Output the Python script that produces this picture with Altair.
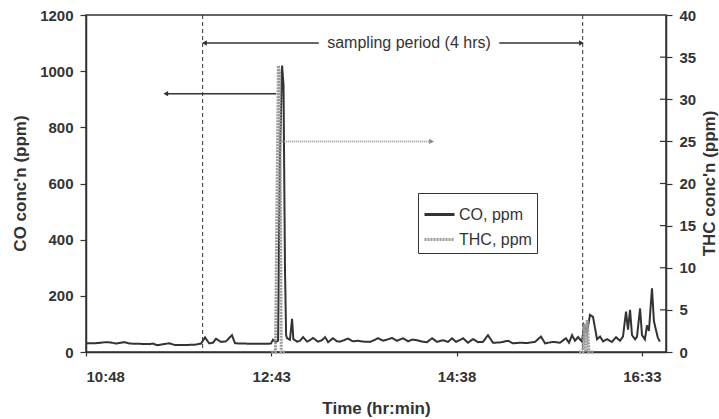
import altair as alt
import pandas as pd

# ---------------- data (minutes after 10:48) ----------------
co_minutes = [0, 5.6, 12.4, 15.5, 18.6, 23.6, 27.3, 33.5, 39.7, 41.6, 44.1, 47.2, 51.5, 55.2, 61.5, 67.7,
              71.4, 73.9, 76.4, 78.8, 80.7, 83.8, 86.9, 90.6, 92.5, 98.7, 104.9, 111.1, 114.8, 116.1, 117.9,
              119.2, 120.4, 121.7, 122.6, 123.5, 124.2, 124.8, 126.6, 127.9, 128.7, 131, 132.8, 134.7, 137.2,
              139, 140.9, 144, 146.5, 148.4, 150.3, 153.3, 155.8, 157.7, 160.1, 162.6, 165.7, 168.8, 171.9,
              176.3, 178.8, 181.3, 184.4, 186.8, 189.9, 193, 196.8, 199.9, 202.4, 205.5, 208.6, 211.7, 214.8,
              217.9, 221.6, 224.7, 227.2, 229.7, 232.2, 234, 237.1, 240.2, 243.3, 246.4, 249.5, 252.6, 257,
              262, 265, 269.4, 273.7, 278.7, 282.4, 284.9, 289.9, 294.2, 297.9, 299.8, 301.7, 303.5, 305.4,
              307.9, 309.1, 311, 312.8, 314.7, 317.2, 319.1, 320.9, 323.4, 326.5, 329, 331.5, 333.3, 335.2,
              336.4, 337.7, 338.9, 340.8, 342, 343.9, 345.1, 346.9, 348.2, 349.4, 351.3, 352.5, 353.7, 355,
              356.2]
co_ppm = [31, 31, 35, 34, 30, 35, 30, 29, 28, 30, 24, 27, 31, 25, 25, 26,
          30, 52, 31, 33, 47, 36, 38, 60, 31, 30, 29, 29, 30, 44, 36,
          40, 700, 1020, 950, 300, 60, 49, 44, 118, 46, 37, 40, 53, 37,
          42, 50, 37, 42, 53, 35, 49, 38, 37, 42, 48, 38, 40, 37,
          36, 42, 49, 40, 44, 50, 40, 49, 38, 44, 42, 37, 35, 49,
          36, 42, 36, 49, 36, 43, 49, 33, 46, 35, 36, 60, 33, 34,
          40, 31, 33, 32, 36, 55, 31, 36, 33, 49, 33, 60, 40, 53,
          37, 95, 70, 132, 125, 45, 55, 38, 46, 36, 53, 40, 55, 144,
          80, 150, 60, 45, 55, 155, 60, 45, 95, 75, 227, 110, 80, 50,
          37]

thc_minutes = [115, 117.6, 119.4, 120.2, 121.2, 124, 306, 308.4, 309.2, 310.2, 311.1, 312.1, 315]
thc_ppm = [0, 0, 34, 33, 0, 0, 0, 0, 3.3, 0, 3.8, 0, 0]
thc_segment = [1, 1, 1, 1, 1, 1, 2, 2, 2, 2, 2, 2, 2]

series_names = ["CO, ppm", "THC, ppm"]
x_tick_values = [0, 115, 230, 345]
x_tick_labels = ["10:48", "12:43", "14:38", "16:33"]
co_tick_values = [0, 200, 400, 600, 800, 1000, 1200]
thc_tick_values = [0, 5, 10, 15, 20, 25, 30, 35, 40]

sampling_bounds = [72.4, 308.3]
sampling_label = "sampling period (4 hrs)"
sampling_arrow_y = 1100
sampling_left_seg = [73.5, 144.5]
sampling_right_seg = [256.5, 307.5]
sampling_label_x = 200.5
co_arrow_seg = [49.5, 118.0]
co_arrow_y = 920
thc_arrow_seg = [121.8, 214.5]
thc_arrow_y = 25

FONT = "Liberation Sans"
DARK = "#333333"
GREY = "#9a9a9a"

co_df = pd.DataFrame({"minute": co_minutes, "value": co_ppm, "series": series_names[0]})
thc_df = pd.DataFrame({"minute": thc_minutes, "value": thc_ppm, "seg": thc_segment,
                       "series": series_names[1]})

label_expr = " : ".join(
    f"datum.value == {v} ? '{l}'" for v, l in zip(x_tick_values, x_tick_labels)) + " : ''"

x_scale = alt.Scale(domain=[0, 360], nice=False, zero=False)
x_axis = alt.Axis(values=x_tick_values, labelExpr=label_expr, title="Time (hr:min)",
                  tickSize=4, labelPadding=13, grid=False, titleY=56, titleBaseline="middle")

color_scale = alt.Scale(domain=series_names, range=[DARK, GREY])
dash_scale = alt.Scale(domain=series_names, range=[[1, 0], [2, 1]])

co_y_scale = alt.Scale(domain=[0, 1200], nice=False)
thc_y_scale = alt.Scale(domain=[0, 40], nice=False)

co_line = alt.Chart(co_df).mark_line(strokeWidth=2, interpolate="linear").encode(
    x=alt.X("minute:Q", scale=x_scale, axis=x_axis),
    y=alt.Y("value:Q", scale=co_y_scale,
            axis=alt.Axis(values=co_tick_values, format="d", title="CO conc'n (ppm)", tickSize=6,
                          labelPadding=7, grid=False, titleX=-66, titleY=168, titleAngle=270,
                          titleBaseline="middle")),
    color=alt.Color("series:N", scale=color_scale, legend=alt.Legend(title=None)),
    strokeDash=alt.StrokeDash("series:N", scale=dash_scale, legend=alt.Legend(title=None)),
)

rules_df = pd.DataFrame({"minute": sampling_bounds})
dashed = alt.Chart(rules_df).mark_rule(color=DARK, strokeWidth=1, strokeDash=[4, 3]).encode(
    x="minute:Q")

arrows_df = pd.DataFrame({
    "x1": [sampling_left_seg[0], sampling_right_seg[0], co_arrow_seg[0]],
    "x2": [sampling_left_seg[1], sampling_right_seg[1], co_arrow_seg[1]],
    "y": [sampling_arrow_y, sampling_arrow_y, co_arrow_y],
})
arrow_lines = alt.Chart(arrows_df).mark_rule(color=DARK, strokeWidth=1.5).encode(
    x="x1:Q", x2="x2:Q", y="y:Q")

heads_df = pd.DataFrame({
    "x": [sampling_left_seg[0], sampling_right_seg[1], co_arrow_seg[0]],
    "y": [sampling_arrow_y, sampling_arrow_y, co_arrow_y],
    "shape": ["triangle-left", "triangle-right", "triangle-left"],
})
heads = alt.Chart(heads_df).mark_point(filled=True, size=30, color=DARK, opacity=1).encode(
    x="x:Q", y="y:Q", shape=alt.Shape("shape:N", scale=None))

label_df = pd.DataFrame({"x": [sampling_label_x], "y": [sampling_arrow_y], "t": [sampling_label]})
label = alt.Chart(label_df).mark_text(font=FONT, fontSize=16, color=DARK, align="center",
                                      baseline="middle").encode(x="x:Q", y="y:Q", text="t:N")

co_layer = alt.layer(co_line, dashed, arrow_lines, heads, label)

thc_line = alt.Chart(thc_df).mark_line(strokeWidth=3).encode(
    x=alt.X("minute:Q", scale=x_scale),
    y=alt.Y("value:Q", scale=thc_y_scale,
            axis=alt.Axis(values=thc_tick_values, title="THC conc'n (ppm)", orient="right",
                          tickSize=6, labelPadding=7, grid=False, titleX=43, titleY=168,
                          titleAngle=270, titleBaseline="middle")),
    color=alt.Color("series:N", scale=color_scale, legend=alt.Legend(title=None)),
    strokeDash=alt.StrokeDash("series:N", scale=dash_scale, legend=alt.Legend(title=None)),
    detail="seg:N",
)

thc_arrow_df = pd.DataFrame({"x1": [thc_arrow_seg[0]], "x2": [thc_arrow_seg[1]], "y": [thc_arrow_y]})
thc_arrow = alt.Chart(thc_arrow_df).mark_rule(color=GREY, strokeWidth=2, strokeDash=[1, 1]).encode(
    x="x1:Q", x2="x2:Q", y="y:Q")
thc_head_df = pd.DataFrame({"x": [thc_arrow_seg[1]], "y": [thc_arrow_y]})
thc_head = alt.Chart(thc_head_df).mark_point(filled=True, size=30, color="#888888", opacity=1,
                                             shape="triangle-right").encode(x="x:Q", y="y:Q")

inner_ticks_df = pd.DataFrame({"v": thc_tick_values[1:-1]})
inner_ticks = alt.Chart(inner_ticks_df).mark_rule(color=DARK, strokeWidth=1.2).encode(
    y="v:Q", x=alt.value(574), x2=alt.value(580))

thc_layer = alt.layer(thc_line, thc_arrow, thc_head, inner_ticks)

chart = alt.layer(co_layer, thc_layer).resolve_scale(y="independent").properties(
    width=580, height=337, autosize="none",
    padding={"left": 86, "top": 15, "right": 53, "bottom": 67},
).configure_view(
    stroke=DARK, strokeWidth=1.5
).configure_axis(
    labelFont=FONT, labelFontSize=15, labelFontWeight="bold", labelColor=DARK,
    titleFont=FONT, titleFontSize=17, titleFontWeight="bold", titleColor=DARK,
    domainColor=DARK, domainWidth=1.5, tickColor=DARK, tickWidth=1.2,
).configure_legend(
    orient="none", legendX=332, legendY=178, strokeColor=DARK, fillColor="white",
    padding=5, labelFont=FONT, labelFontSize=16, labelColor=DARK, labelOffset=3,
    symbolType="stroke", symbolSize=900, symbolStrokeWidth=3, rowPadding=0,
)

chart.save("out.html", embed_options={"renderer": "svg", "actions": False})
